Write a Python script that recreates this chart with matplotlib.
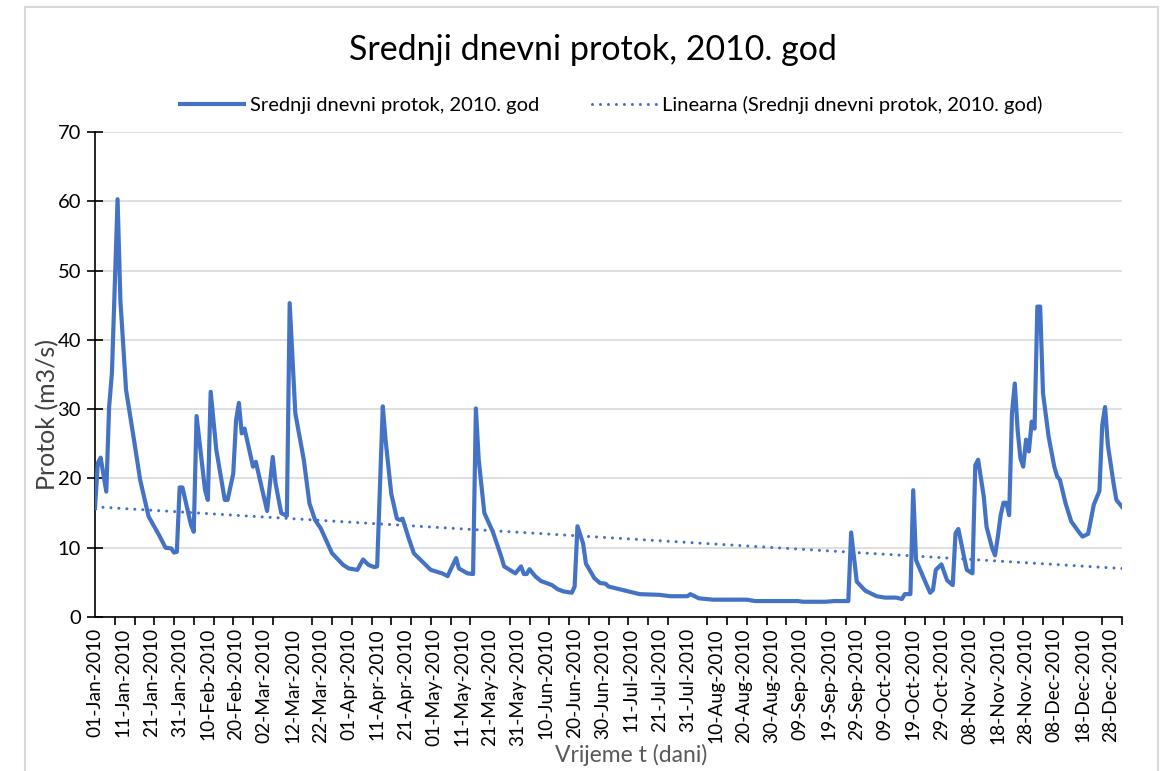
import numpy as np
import matplotlib
matplotlib.use('Agg')
import matplotlib.pyplot as plt
from matplotlib.patches import Rectangle
from matplotlib.ticker import FixedLocator, MultipleLocator

# daily mean discharge 2010, key readings (day index from 01-Jan, m3/s)
days = [0, 1, 2, 4, 5, 6, 8, 9, 11, 14, 16, 19, 23, 25, 27, 28, 29, 30, 31, 34,
        35, 36, 39, 40, 41, 43, 46, 47, 49, 50, 51, 52, 53, 56, 57, 60, 61, 63, 64, 66,
        68, 69, 71, 74, 76, 78, 80, 84, 88, 90, 93, 95, 97, 99, 100, 102, 103, 105, 107, 108,
        109, 111, 113, 116, 119, 123, 125, 126, 128, 129, 132, 134, 135, 136, 138, 141, 142, 144, 145, 149,
        151, 152, 153, 154, 156, 158, 162, 164, 166, 169, 170, 171, 173, 174, 177, 179, 181, 182, 187, 193,
        200, 204, 210, 211, 214, 219, 231, 234, 249, 251, 259, 262, 267, 268, 270, 273, 277, 280, 284, 286,
        287, 289, 290, 291, 293, 295, 296, 297, 298, 300, 302, 304, 305, 306, 308, 309, 311, 312, 313, 315,
        316, 318, 319, 320, 321, 322, 323, 324, 325, 326, 327, 328, 329, 330, 331, 332, 333, 334, 335, 336,
        338, 340, 341, 342, 344, 346, 349, 350, 352, 354, 356, 357, 358, 359, 361, 362, 364]
protok = [15.7, 22.2, 23.0, 18.1, 30.3, 35.2, 60.3, 45.7, 32.8, 25.1, 19.8, 14.5, 11.6, 10.0, 9.9, 9.3, 9.4, 18.7, 18.7, 13.3,
          12.3, 29.0, 18.3, 16.9, 32.5, 24.1, 16.9, 16.9, 20.7, 28.4, 30.9, 26.5, 27.2, 21.7, 22.4, 17.1, 15.3, 23.1, 19.3, 15.0,
          14.6, 45.3, 29.4, 22.7, 16.4, 14.0, 12.8, 9.2, 7.5, 7.0, 6.8, 8.3, 7.5, 7.2, 7.3, 30.4, 25.5, 17.8, 14.2, 14.0,
          14.2, 11.6, 9.2, 8.0, 6.8, 6.3, 5.9, 6.8, 8.5, 7.0, 6.3, 6.2, 30.1, 22.7, 15.0, 12.3, 11.1, 8.7, 7.3, 6.3,
          7.3, 6.2, 6.2, 6.9, 5.9, 5.2, 4.6, 4.0, 3.7, 3.5, 4.4, 13.1, 10.6, 7.7, 5.6, 4.9, 4.8, 4.4, 3.9, 3.3,
          3.2, 3.0, 3.0, 3.3, 2.7, 2.5, 2.5, 2.3, 2.3, 2.2, 2.2, 2.3, 2.3, 12.2, 5.1, 3.8, 3.0, 2.8, 2.8, 2.6,
          3.3, 3.3, 18.3, 8.2, 6.3, 4.4, 3.5, 3.9, 6.8, 7.6, 5.3, 4.6, 12.1, 12.7, 8.7, 6.8, 6.3, 21.9, 22.7, 17.4,
          13.0, 9.9, 8.9, 11.6, 14.7, 16.5, 16.5, 14.7, 29.4, 33.7, 27.0, 22.9, 21.7, 25.6, 23.9, 28.2, 27.2, 44.8, 44.8, 32.3,
          26.0, 21.7, 20.3, 19.8, 16.4, 13.8, 12.1, 11.6, 12.0, 16.2, 18.2, 27.7, 30.3, 24.8, 19.3, 16.9, 15.9]

# linear trend end points
trend_days = [0, 364]
trend_vals = [15.9, 7.0]

date_labels = ['01-Jan-2010', '11-Jan-2010', '21-Jan-2010', '31-Jan-2010', '10-Feb-2010', '20-Feb-2010',
               '02-Mar-2010', '12-Mar-2010', '22-Mar-2010', '01-Apr-2010', '11-Apr-2010', '21-Apr-2010',
               '01-May-2010', '11-May-2010', '21-May-2010', '31-May-2010', '10-Jun-2010', '20-Jun-2010',
               '30-Jun-2010', '11-Jul-2010', '21-Jul-2010', '31-Jul-2010', '10-Aug-2010', '20-Aug-2010',
               '30-Aug-2010', '09-Sep-2010', '19-Sep-2010', '29-Sep-2010', '09-Oct-2010', '19-Oct-2010',
               '29-Oct-2010', '08-Nov-2010', '18-Nov-2010', '28-Nov-2010', '08-Dec-2010', '18-Dec-2010',
               '28-Dec-2010']

plt.rcParams['font.family'] = ['Lato', 'DejaVu Sans']
blue = '#4472C4'

fig = plt.figure(figsize=(11.69, 7.71), dpi=100)
W, H = 1169, 771
ax = fig.add_axes([95 / W, 1 - 617 / H, (1122 - 95) / W, (617 - 132) / H])

# chart area border
fig.patches.append(Rectangle((25 / W, -0.05), (1158 - 25) / W, 1.05 - 7 / H, transform=fig.transFigure,
                             fill=False, edgecolor='#D9D9D9', lw=1.5))

ln, = ax.plot(days, protok, color=blue, lw=3.0, solid_joinstyle='round', zorder=3,
              label='Srednji dnevni protok, 2010. god')
tr, = ax.plot(trend_days, trend_vals, color=blue, lw=2.2, linestyle=(0, (0.01, 2.6)),
              dash_capstyle='round', zorder=2, label='Linearna (Srednji dnevni protok, 2010. god)')

ax.set_xlim(0, 364)
ax.set_ylim(0, 70)
ax.yaxis.set_major_locator(MultipleLocator(10))
ax.grid(axis='y', color='#D9D9D9', lw=1.2)
ax.set_axisbelow(True)

ax.xaxis.set_major_locator(FixedLocator(np.arange(0, 361, 10)))
ax.set_xticklabels(date_labels, rotation=90, fontsize=13.8)
ax.xaxis.set_minor_locator(FixedLocator(np.arange(0, 365, 7)))
ax.tick_params(axis='x', which='major', length=0, pad=8)
ax.tick_params(axis='x', which='minor', length=6, width=1.2, color='black')
ax.tick_params(axis='y', direction='inout', length=12, width=1.2, labelsize=14.5, pad=4)

for s in ['top', 'right']:
    ax.spines[s].set_visible(False)
for s in ['left', 'bottom']:
    ax.spines[s].set_color('black')
    ax.spines[s].set_linewidth(1.2)

# axis titles placed in figure pixels
fig.text(631 / W, 1 - 755 / H, 'Vrijeme t (dani)', fontsize=16.5, color='#595959',
         ha='center', va='center')
fig.text(48 / W, 1 - 414 / H, 'Protok (m3/s)', fontsize=18, color='#404040',
         ha='center', va='center', rotation=90)

fig.text(593 / W, 1 - 50 / H, 'Srednji dnevni protok, 2010. god', fontsize=24.5,
         ha='center', va='center')
fig.legend(handles=[ln, tr], loc='center', bbox_to_anchor=(611 / W, 1 - 105 / H), ncol=2,
           frameon=False, fontsize=14.5, handlelength=3.2, columnspacing=2.6, handletextpad=0.3)

fig.savefig('out.png', dpi=100)
